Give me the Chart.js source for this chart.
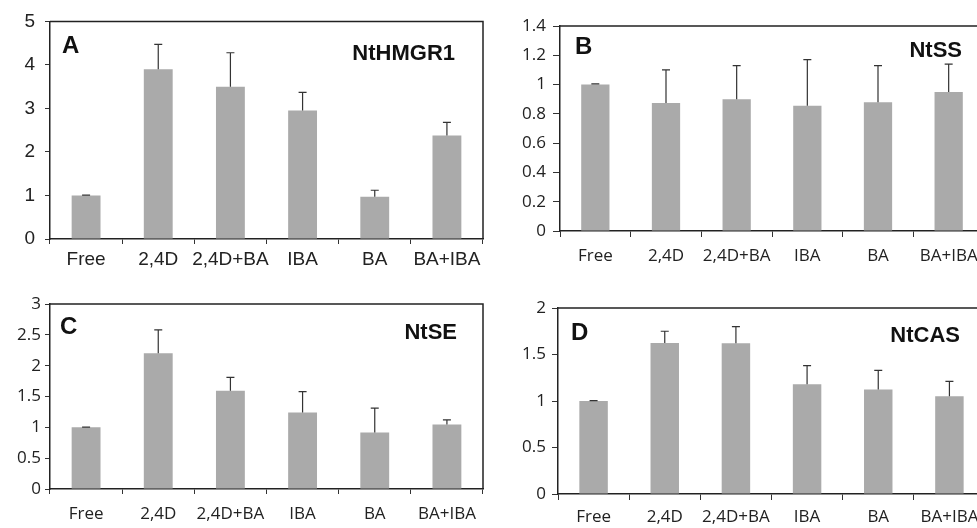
<!DOCTYPE html>
<html>
<head>
<meta charset="utf-8">
<script src="https://cdn.jsdelivr.net/npm/chart.js@4.4.1/dist/chart.umd.min.js"></script>
<style>
  html, body { margin: 0; padding: 0; background: #fff; overflow: hidden; }
  #page { position: relative; width: 977px; height: 528px; overflow: hidden; }
  .panel { position: absolute; }
</style>
</head>
<body>
<div id="page">
  <div class="panel" style="left:0;top:0"><canvas id="chartA" width="490" height="280"></canvas></div>
  <div class="panel" style="left:490px;top:0"><canvas id="chartB" width="500" height="280"></canvas></div>
  <div class="panel" style="left:0;top:280px"><canvas id="chartC" width="490" height="248"></canvas></div>
  <div class="panel" style="left:490px;top:280px"><canvas id="chartD" width="500" height="248"></canvas></div>
</div>
<script>
const treatments = ['Free', '2,4D', '2,4D+BA', 'IBA', 'BA', 'BA+IBA'];

const hmgrValues = [1.0, 3.9, 3.5, 2.95, 0.97, 2.38];
const hmgrErrors = [0.01, 0.57, 0.78, 0.42, 0.15, 0.30];

const ssValues = [1.0, 0.875, 0.90, 0.855, 0.88, 0.95];
const ssErrors = [0.005, 0.225, 0.23, 0.315, 0.25, 0.19];

const seValues = [1.0, 2.20, 1.595, 1.24, 0.915, 1.045];
const seErrors = [0.005, 0.38, 0.215, 0.34, 0.395, 0.075];

const casValues = [1.0, 1.625, 1.62, 1.18, 1.125, 1.05];
const casErrors = [0.005, 0.125, 0.18, 0.20, 0.205, 0.16];

// error bars, top/right frame and the panel captions
const panelExtras = {
    id: 'panelExtras',
    afterDatasetsDraw(chart, args, opts) {
        const ctx = chart.ctx;
        const area = chart.chartArea;
        const yScale = chart.scales.y;
        const ds = chart.data.datasets[0];
        const meta = chart.getDatasetMeta(0);

        ctx.save();
        ctx.strokeStyle = '#333';
        ctx.lineWidth = 1.2;
        meta.data.forEach((bar, i) => {
            const top = yScale.getPixelForValue(ds.data[i] + ds.errors[i]);
            ctx.beginPath();
            ctx.moveTo(bar.x, bar.y);
            ctx.lineTo(bar.x, top);
            ctx.moveTo(bar.x - 4, top);
            ctx.lineTo(bar.x + 4, top);
            ctx.stroke();
        });

        ctx.strokeStyle = '#222';
        ctx.lineWidth = 1.5;
        ctx.beginPath();
        ctx.moveTo(area.left, area.top);
        ctx.lineTo(area.right, area.top);
        ctx.lineTo(area.right, area.bottom);
        ctx.stroke();

        ctx.fillStyle = '#111';
        ctx.textBaseline = 'middle';
        ctx.textAlign = 'left';
        ctx.font = 'bold 24px "Liberation Sans", Arial, sans-serif';
        ctx.fillText(opts.letter, area.left + opts.letterDx, area.top + opts.letterDy);
        ctx.textAlign = 'right';
        ctx.font = 'bold 22px "Liberation Sans", Arial, sans-serif';
        ctx.fillText(opts.gene, area.right - opts.geneDx, area.top + opts.geneDy);
        ctx.restore();
    }
};

function drawPanel(id, values, errors, cfg) {
    const ctx = document.getElementById(id).getContext('2d');
    return new Chart(ctx, {
        type: 'bar',
        data: {
            labels: treatments,
            datasets: [{
                data: values,
                errors: errors,
                backgroundColor: '#aaaaaa',
                borderWidth: 0,
                barPercentage: 0.4,
                categoryPercentage: 1
            }]
        },
        options: {
            responsive: false,
            animation: false,
            events: [],
            layout: { padding: { top: cfg.padTop, right: cfg.padRight, left: 0, bottom: 0 } },
            plugins: {
                legend: { display: false },
                tooltip: { enabled: false },
                panelExtras: cfg.captions
            },
            scales: {
                x: {
                    offset: true,
                    afterFit: scale => { scale.height = cfg.xHeight; },
                    border: { color: '#222', width: 1.5 },
                    grid: { offset: true, drawOnChartArea: false, tickLength: cfg.xTick, color: '#333' },
                    ticks: {
                        color: '#222',
                        padding: cfg.xPad,
                        maxRotation: 0,
                        autoSkip: false,
                        font: { family: cfg.font, size: cfg.xSize }
                    }
                },
                y: {
                    min: 0,
                    max: cfg.yMax,
                    afterFit: scale => { scale.width = cfg.yWidth; },
                    border: { color: '#222', width: 1.5 },
                    grid: { drawOnChartArea: false, tickLength: cfg.yTick, color: '#333' },
                    ticks: {
                        stepSize: cfg.yStep,
                        color: '#222',
                        padding: cfg.yPad,
                        font: { family: cfg.font, size: cfg.ySize },
                        callback: v => String(+v.toFixed(2))
                    }
                }
            }
        },
        plugins: [panelExtras]
    });
}

drawPanel('chartA', hmgrValues, hmgrErrors, {
    padTop: 20, padRight: 7, xHeight: 41, yWidth: 50,
    xTick: 5, xPad: 4, yTick: 5, yPad: 10,
    font: '"Liberation Sans", Arial, sans-serif', xSize: 19, ySize: 19,
    yMax: 5, yStep: 1,
    captions: { letter: 'A', letterDx: 12, letterDy: 25, gene: 'NtHMGR1', geneDx: 28, geneDy: 33 }
});

drawPanel('chartB', ssValues, ssErrors, {
    padTop: 26, padRight: 6, xHeight: 49, yWidth: 70,
    xTick: 6, xPad: 9, yTick: 7, yPad: 7,
    font: '"Open Sans", sans-serif', xSize: 17, ySize: 17,
    yMax: 1.4, yStep: 0.2,
    captions: { letter: 'B', letterDx: 15, letterDy: 21, gene: 'NtSS', geneDx: 22, geneDy: 25 }
});

drawPanel('chartC', seValues, seErrors, {
    padTop: 24, padRight: 7, xHeight: 39, yWidth: 50,
    xTick: 5, xPad: 10, yTick: 5, yPad: 4,
    font: '"Open Sans", sans-serif', xSize: 17, ySize: 17,
    yMax: 3, yStep: 0.5,
    captions: { letter: 'C', letterDx: 10, letterDy: 23, gene: 'NtSE', geneDx: 26, geneDy: 29 }
});

drawPanel('chartD', casValues, casErrors, {
    padTop: 28, padRight: 5, xHeight: 34, yWidth: 68,
    xTick: 6, xPad: 7, yTick: 6, yPad: 6,
    font: '"Open Sans", sans-serif', xSize: 17, ySize: 17,
    yMax: 2, yStep: 0.5,
    captions: { letter: 'D', letterDx: 13, letterDy: 25, gene: 'NtCAS', geneDx: 25, geneDy: 28 }
});
</script>
</body>
</html>
